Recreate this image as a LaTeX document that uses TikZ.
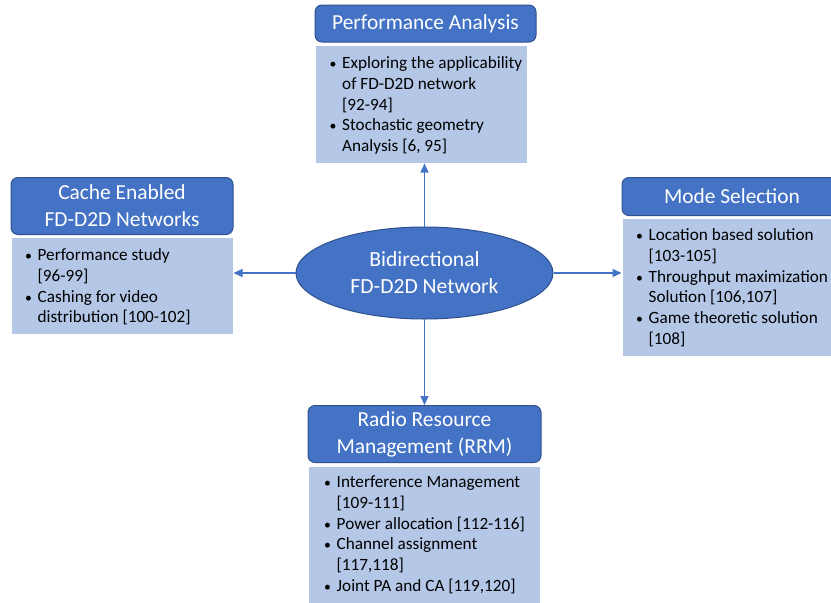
\documentclass[tikz,border=0pt]{standalone}
\usepackage{fontspec}
\setmainfont{Carlito}
\usetikzlibrary{shapes.geometric,arrows.meta}
\definecolor{hdrblue}{HTML}{4472C4}
\definecolor{hdrline}{HTML}{2F528F}
\definecolor{bodyblue}{HTML}{B4C7E7}
\definecolor{arrblue}{HTML}{4472C4}
\newcommand{\bul}{\makebox[12.5pt][l]{\scalebox{0.8}{\textbullet}}}
\newcommand{\ind}{\hspace*{12.5pt}}
\begin{document}
\begin{tikzpicture}[x=1pt,y=-1pt,
 hdr/.style={draw=hdrline, fill=hdrblue, line width=1pt, rounded corners=7pt, text=white,
   font=\fontsize{21.4}{27}\selectfont, align=center, inner sep=0pt},
 bdy/.style={draw=white, fill=bodyblue, line width=1pt, inner sep=0pt},
 btxt/.style={anchor=north west, inner sep=0pt, align=left, text=black,
   font=\fontsize{17.2}{20.9}\selectfont},
 arr/.style={draw=arrblue, line width=1.2pt, -{Triangle[length=9pt,width=8pt]}}]
\clip (0,0) rectangle (831,603);
\fill[white] (0,0) rectangle (831,603);

% Performance Analysis
\node[hdr, minimum width=221pt, minimum height=37pt] (pah) at (425.5,23.5) {Performance Analysis};
\node[bdy, minimum width=212pt, minimum height=118pt] (pab) at (421,104) {};
\node[btxt] (pat) at (329.5,53.4) {\strut\bul Exploring the applicability\\
 \ind of FD-D2D network\\
 \ind [92-94]\\
 \bul Stochastic geometry\\
 \ind Analysis [6, 95]};

% Cache Enabled
\node[hdr, minimum width=222pt, minimum height=57pt] (cah) at (122,206) {Cache Enabled\\FD-D2D Networks};
\node[bdy, minimum width=222pt, minimum height=97pt] (cab) at (122,285.5) {};
\node[btxt] (cat) at (25,245.4) {\strut\bul Performance study\\
 \ind [96-99]\\
 \bul Cashing for video\\
 \ind distribution [100-102]};

% Mode Selection
\node[hdr, minimum width=220pt, minimum height=38pt] (msh) at (732,196.5) {Mode Selection};
\node[bdy, minimum width=213pt, minimum height=138pt] (msb) at (728.5,287) {};
\node[btxt] (mst) at (636,225.4) {\strut\bul Location based solution\\
 \ind [103-105]\\
 \bul Throughput maximization\\
 \ind Solution [106,107]\\
 \bul Game theoretic solution\\
 \ind [108]};

% RRM
\node[hdr, minimum width=233pt, minimum height=57pt] (rrh) at (424.5,434) {Radio Resource\\Management (RRM)};
\node[bdy, minimum width=232pt, minimum height=144pt] (rrb) at (424,538) {};
\node[btxt] (rrt) at (324,472.4) {\strut\bul Interference Management\\
 \ind [109-111]\\
 \bul Power allocation [112-116]\\
 \bul Channel assignment\\
 \ind [117,118]\\
 \bul Joint PA and CA [119,120]};

% Center ellipse
\node[ellipse, draw=hdrline, fill=hdrblue, line width=1pt, minimum width=257pt, minimum height=92pt,
  inner sep=0pt, text=white, align=center, font=\fontsize{21.6}{27}\selectfont] (ell) at (424.5,273)
  {Bidirectional\\FD-D2D Network};

% Connectors
\draw[arr] (ell.north) -- (ell.north |- pab.south);
\draw[arr] (ell.south) -- (ell.south |- rrh.north);
\draw[arr] (ell.west) -- (ell.west -| cab.east);
\draw[arr] (ell.east) -- (ell.east -| msb.west);
\end{tikzpicture}
\end{document}
